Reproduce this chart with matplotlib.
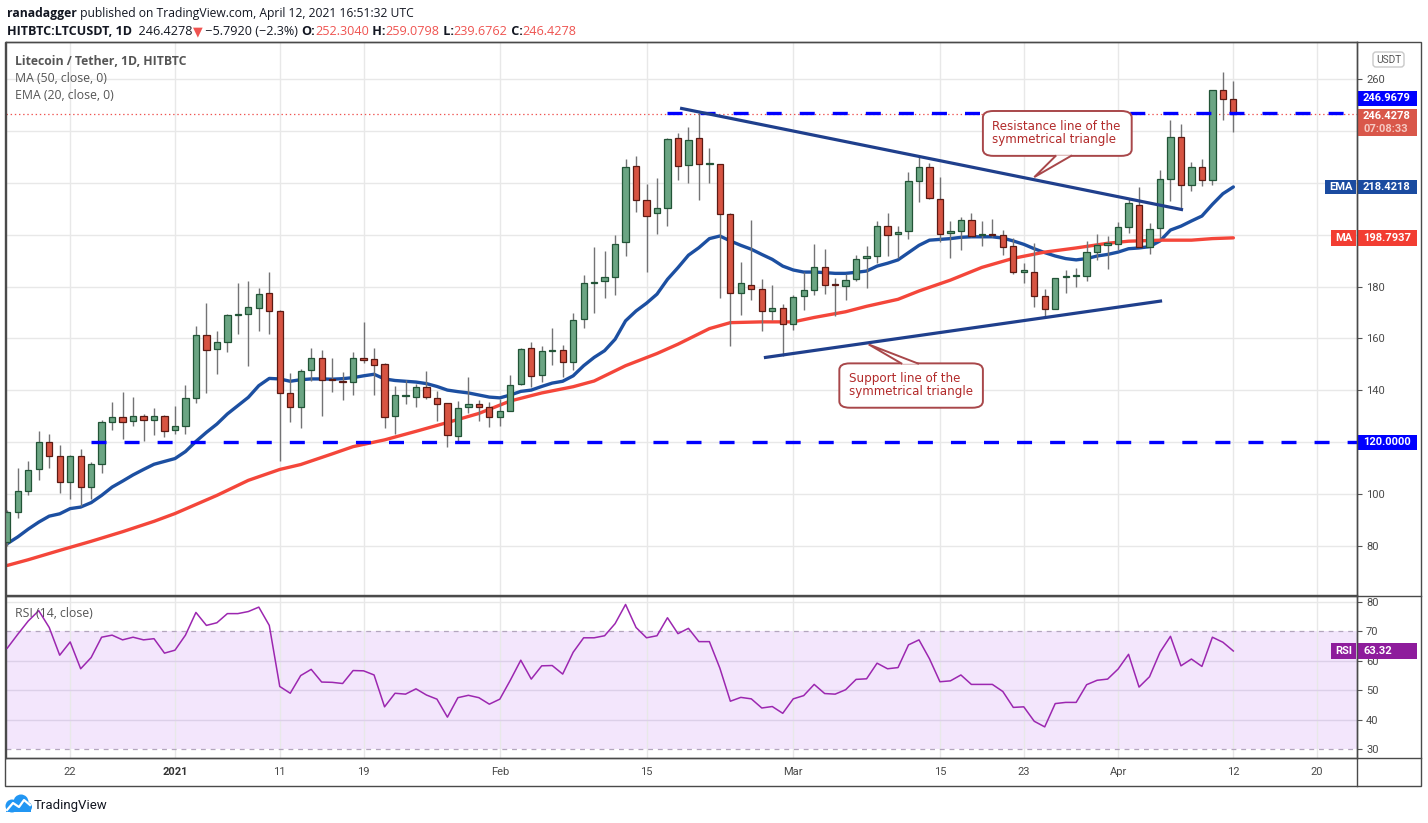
import numpy as np
import pandas as pd
import matplotlib
matplotlib.use("Agg")
import matplotlib.pyplot as plt
from matplotlib.patches import Rectangle, FancyBboxPatch, Polygon, Circle
from matplotlib.transforms import blended_transform_factory

plt.rcParams['lines.scale_dashes'] = False

# ---- data ----
dates = pd.date_range('2020-12-16', '2021-04-12', freq='D')

opens = [81.5, 93.1, 101.2, 109.6, 120.0, 114.6, 104.6, 114.6, 102.7, 111.5, 127.7, 129.6, 128.1, 130.0, 128.7, 130.0,
         124.6, 126.2, 136.9, 161.5, 155.8, 158.5, 169.0, 169.6, 171.9, 177.7, 170.4, 138.8, 133.5, 147.7, 152.3, 144.2,
         143.7, 143.1, 152.3, 151.9, 150.0, 130.0, 137.7, 137.3, 141.2, 136.9, 135.0, 122.3, 133.5, 134.6, 133.5,
         129.6, 131.9, 142.3, 156.2, 145.8, 155.0, 155.4, 150.8, 167.7, 181.3, 182.2, 183.8, 197.3, 226.5, 213.5, 208.5,
         210.4, 237.3, 226.9, 237.3, 227.1, 227.3, 208.1, 177.7, 180.8, 179.2, 170.4, 171.9,
         165.4, 176.2, 178.8, 187.7, 180.8, 180.4, 183.1, 191.2, 191.8, 203.5, 200.4, 201.5, 220.8, 226.2, 213.8, 200.8,
         201.5, 205.8, 199.9, 200.0, 200.0, 195.8, 185.8, 185.8, 176.2, 171.5, 183.6, 184.1, 184.1, 193.5, 195.9,
         196.5, 203.1, 211.5, 195.4, 202.7, 221.5, 237.7, 219.2, 226.2, 221.0, 255.8, 252.3040]
highs = [94.0, 110.1, 112.7, 124.4, 123.2, 119.0, 115.0, 117.4, 112.3, 128.6, 135.5, 139.4, 137.4, 130.9, 133.2, 130.5,
         134.0, 142.1, 164.7, 173.6, 162.8, 169.6, 181.3, 182.1, 179.4, 185.8, 170.8, 146.7, 148.2, 156.3, 155.4, 152.4,
         146.9, 154.7, 166.3, 156.3, 150.5, 141.5, 144.0, 142.3, 147.4, 139.6, 135.0, 135.8, 145.1, 136.3, 135.4,
         136.7, 145.9, 156.5, 158.8, 157.1, 164.0, 157.4, 169.7, 184.4, 195.1, 193.6, 199.7, 229.0, 230.4, 219.6, 221.9,
         237.4, 239.1, 241.7, 246.9, 233.5, 227.3, 208.5, 189.4, 205.5, 182.8, 180.5, 173.2,
         176.7, 185.8, 196.3, 194.4, 183.5, 185.0, 192.2, 195.5, 205.1, 208.2, 203.5, 224.0, 230.0, 227.7, 222.4, 205.1,
         206.9, 208.2, 205.1, 206.2, 201.9, 198.8, 189.2, 196.9, 179.0, 183.5, 186.3, 187.3, 197.6, 200.1, 199.5,
         205.0, 213.6, 218.3, 204.6, 225.1, 244.4, 242.8, 228.2, 229.0, 255.8, 262.7, 259.0798]
lows = [80.0, 90.8, 99.5, 105.3, 109.9, 100.6, 98.3, 95.6, 98.3, 108.3, 124.9, 121.3, 126.4, 120.3, 122.6, 122.2,
        123.0, 123.0, 135.3, 139.1, 146.4, 154.9, 161.8, 149.5, 162.9, 161.8, 112.6, 127.9, 125.6, 143.7, 130.3, 139.5,
        136.4, 138.3, 150.4, 138.3, 125.6, 123.2, 134.9, 133.7, 136.5, 128.3, 118.3, 120.0, 131.2, 128.1, 125.8,
        126.2, 131.9, 141.9, 141.4, 143.3, 149.9, 145.3, 147.9, 164.1, 169.9, 175.5, 176.7, 191.8, 208.7, 185.6, 200.3,
        203.3, 221.2, 220.0, 213.5, 220.0, 175.5, 157.2, 169.1, 175.0, 162.9, 167.2, 153.1,
        163.3, 171.0, 176.8, 177.2, 168.7, 174.9, 182.2, 179.5, 189.2, 191.8, 191.2, 198.3, 212.6, 213.8, 197.3, 191.2,
        194.1, 199.2, 195.6, 199.2, 192.1, 184.9, 181.2, 172.3, 168.7, 171.5, 177.7, 179.9, 182.2, 190.3, 186.9,
        194.1, 200.8, 195.4, 192.4, 198.2, 212.9, 210.3, 216.8, 218.7, 219.0, 244.4, 239.6762]
closes = [93.1, 101.2, 109.2, 120.0, 114.6, 104.6, 114.6, 102.7, 111.5, 127.7, 129.6, 127.7, 130.0, 128.7, 130.0, 124.2,
          126.2, 136.9, 161.2, 155.4, 158.5, 169.2, 169.2, 172.3, 177.3, 170.4, 138.8, 133.5, 147.3, 152.3, 143.8, 143.8,
          143.1, 152.3, 151.8, 149.6, 129.6, 138.1, 137.9, 141.2, 137.3, 134.6, 122.7, 133.1, 134.6, 133.5, 129.6,
          131.9, 142.1, 155.9, 145.4, 155.0, 155.4, 150.8, 167.3, 181.5, 181.5, 183.8, 196.5, 226.2, 213.5, 207.3, 210.4,
          236.9, 226.5, 236.5, 227.3, 227.2, 208.1, 177.7, 181.2, 179.2, 170.4, 171.9, 165.4,
          175.8, 178.8, 187.7, 180.8, 180.6, 182.7, 190.8, 191.4, 203.5, 200.0, 201.2, 220.8, 226.2, 214.2, 200.4, 201.5,
          205.8, 199.6, 200.0, 199.8, 195.4, 185.8, 185.9, 176.2, 171.5, 183.5, 184.0, 184.2, 193.5, 195.9, 196.9,
          203.1, 212.1, 195.4, 202.3, 221.5, 237.7, 219.2, 226.2, 221.0, 255.8, 252.3, 246.4278]

ema20 = [80.9, 83.5, 86.5, 89.2, 91.5, 92.4, 94.4, 95.0, 96.7, 99.5, 102.7, 105.0, 107.4, 109.5, 111.5, 112.6,
         113.7, 116.4, 120.3, 123.8, 127.0, 130.9, 134.1, 137.3, 141.8, 144.6, 144.4, 143.5, 144.1, 144.4, 144.4, 144.3,
         144.5, 144.9, 145.6, 146.2, 144.4, 143.8, 143.5, 143.2, 142.6, 141.5, 140.1, 139.5, 139.0, 138.2, 137.4,
         137.1, 138.2, 139.6, 140.1, 141.5, 142.8, 143.5, 145.6, 149.5, 152.7, 155.3, 159.7, 166.8, 170.6, 173.6, 177.1,
         182.8, 187.3, 192.1, 195.0, 198.5, 199.5, 197.6, 195.9, 194.4, 192.4, 190.5, 187.9,
         186.4, 185.6, 185.6, 185.4, 185.1, 185.1, 185.5, 186.0, 187.9, 189.0, 190.3, 193.1, 195.9, 197.9, 198.2, 198.5,
         199.0, 199.2, 199.2, 199.2, 198.7, 197.6, 196.3, 194.6, 193.1, 191.8, 190.8, 190.3, 190.8, 191.8, 192.4,
         193.3, 194.6, 194.9, 195.4, 197.6, 201.8, 203.3, 205.3, 207.2, 211.7, 215.8, 218.4218]

ma50_days = [0, 2, 5, 8, 11, 14, 16, 20, 23, 26, 28, 31, 33, 36, 39, 42, 45, 48, 51, 54, 56, 59, 62, 64, 67, 69,
             72, 75, 77, 80, 82, 85, 87, 90, 93, 96, 99, 102, 105, 107, 110, 113, 115, 117]
ma50_vals = [72.5, 74.7, 78.3, 81.8, 85.5, 89.5, 92.5, 99.5, 105.3, 109.5, 111.4, 115.5, 118.3, 120.9, 124.2, 127.6,
             131.1, 135.9, 139.0, 141.4, 143.6, 149.5, 154.2, 157.8, 163.8, 166.1, 166.4, 166.4, 168.1, 170.3, 172.4,
             175.1, 178.3, 182.5, 187.4, 190.9, 193.3, 194.9, 196.7, 197.5, 197.9, 197.9, 198.5, 198.7937]

rsi14 = [64.3, 69.0, 73.5, 77.0, 71.3, 61.9, 66.4, 57.3, 61.1, 68.0, 68.7, 67.1, 68.0, 67.1, 67.5, 62.6,
         63.6, 68.7, 76.4, 72.0, 72.9, 76.0, 76.0, 76.7, 78.2, 72.0, 51.3, 49.0, 55.0, 57.1, 52.8, 52.7,
         52.3, 56.7, 56.6, 55.2, 44.4, 49.0, 48.7, 50.5, 48.4, 47.0, 40.9, 47.5, 48.3, 47.5, 45.3,
         47.0, 53.4, 60.2, 53.8, 58.3, 58.4, 55.5, 62.9, 67.8, 67.8, 68.5, 72.6, 79.1, 71.3, 67.8, 68.5,
         74.6, 69.2, 71.0, 66.5, 66.5, 57.5, 46.3, 47.6, 47.1, 44.0, 44.5, 42.2,
         47.1, 48.2, 52.0, 48.9, 48.7, 50.2, 53.7, 53.9, 59.2, 57.3, 57.7, 65.4, 67.1, 60.7, 52.9, 53.2,
         55.2, 52.0, 52.0, 52.0, 49.6, 44.2, 44.4, 39.5, 37.6, 45.5, 45.9, 45.9, 51.9, 53.4, 53.8,
         57.2, 62.2, 51.1, 54.6, 62.9, 68.3, 58.3, 60.6, 58.1, 68.0, 66.3, 63.32]

tick_dates = ['2020-12-22', '2021-01-01', '2021-01-11', '2021-01-19', '2021-02-01', '2021-02-15',
              '2021-03-01', '2021-03-15', '2021-03-23', '2021-04-01', '2021-04-12', '2021-04-20']
tick_labels = ['22', '2021', '11', '19', 'Feb', '15', 'Mar', '15', '23', 'Apr', '12', '20']
price_ticks = [80, 100, 120, 140, 160, 180, 200, 220, 240, 260]
price_tick_labels = ['80', '100', '', '140', '160', '180', '', '', '', '260']
rsi_ticks = [30, 40, 50, 60, 70, 80]

resistance_level = 246.9679
resistance_from = '2021-02-17'
support_level = 120.0
support_from = '2020-12-24'
res_line_days = [64.2, 112.2]
res_line_vals = [248.8, 209.6]
sup_line_days = [72.2, 110.2]
sup_line_vals = [152.6, 174.5]

# ---- figure ----
W, H = 1428, 823
fig = plt.figure(figsize=(W / 100, H / 100), dpi=100)
fig.patch.set_facecolor('white')

def frac(x0, y0, x1, y1):
    return [x0 / W, 1 - y1 / H, (x1 - x0) / W, (y1 - y0) / H]

ax = fig.add_axes(frac(6, 42, 1357, 595))
ax2 = fig.add_axes(frac(6, 596, 1357, 758), sharex=ax)
ov = fig.add_axes([0, 0, 1, 1], zorder=10)
ov.set_xlim(0, W)
ov.set_ylim(H, 0)
ov.axis('off')
ov.patch.set_alpha(0)

narrow = ['Roboto', 'DejaVu Sans']
x = np.arange(len(dates))
day0 = dates[0]
tick_pos = [(pd.Timestamp(d) - day0).days for d in tick_dates]

# candles
o = np.array(opens)
c = np.array(closes)
up = c >= o
body_lo = np.minimum(o, c)
body_h = np.maximum(np.abs(c - o), 0.5)
ax.vlines(x, lows, highs, color='#737375', lw=1, zorder=3)
ax.bar(x, body_h, bottom=body_lo, width=0.6,
       color=np.where(up, '#6ba583', '#d75442'),
       edgecolor=np.where(up, '#225437', '#5b1a13'), linewidth=0.9, zorder=4)

# moving averages
ax.plot(x, ema20, color='#1c4fa1', lw=2.4, zorder=2, solid_capstyle='round')
ax.plot(ma50_days, ma50_vals, color='#f4463a', lw=2.4, zorder=2, solid_capstyle='round')

# horizontal levels
lx_r = (pd.Timestamp(resistance_from) - day0).days
lx_s = (pd.Timestamp(support_from) - day0).days
ax.plot([lx_r, 140], [resistance_level] * 2, color='#0000ff', lw=2.4, dashes=(10.8, 13.0), zorder=6)
ax.plot([lx_s, 140], [support_level] * 2, color='#0000ff', lw=2.4, dashes=(10.8, 13.0), zorder=6)
ax.axhline(closes[-1], color='#ef5350', lw=0.9, dashes=(1, 2), zorder=1)

# triangle lines
ax.plot(res_line_days, res_line_vals, color='#1f3f8c', lw=2.3, zorder=6, solid_capstyle='butt')
ax.plot(sup_line_days, sup_line_vals, color='#1f3f8c', lw=2.3, zorder=6, solid_capstyle='butt')

# callouts
def callout(ax, x0, x1, y0, y1, base, tip, lines, tx, ty):
    ec = '#a8474a'
    box = FancyBboxPatch((x0, y0), x1 - x0, y1 - y0, boxstyle='round,pad=0,rounding_size=1.0',
                         mutation_aspect=2.5, fc='white', ec=ec, lw=1.4, zorder=7)
    ax.add_patch(box)
    by = base[2]
    tri = Polygon([(base[0], by), (tip[0], tip[1]), (base[1], by)], closed=False,
                  fc='white', ec=ec, lw=1.4, zorder=8, joinstyle='miter')
    ax.add_patch(tri)
    ax.text(tx, ty[0], lines[0], color='#b22a2a', fontsize=8.6, family='DejaVu Sans', va='center', zorder=9)
    ax.text(tx, ty[1], lines[1], color='#b22a2a', fontsize=8.6, family='DejaVu Sans', va='center', zorder=9)

callout(ax, 93.1, 107.3, 230.4, 247.7, (100.1, 101.6, 230.6), (98.0, 222.2),
        ['Resistance line of the', 'symmetrical triangle'], 94.0, (241.6, 236.8))
callout(ax, 79.4, 93.1, 133.3, 150.4, (85.4, 87.0, 150.2), (82.2, 157.7),
        ['Support line of the', 'symmetrical triangle'], 80.3, (144.6, 139.6))

# axes styling
for a in (ax, ax2):
    for s in a.spines.values():
        s.set_color('#4a4a4a')
        s.set_linewidth(1)
    a.set_xticks(tick_pos)
    a.grid(True, axis='x', color='#e8e8e8', lw=1, zorder=0)
    a.tick_params(axis='y', which='both', right=True, left=False, labelright=True, labelleft=False,
                  length=3.5, width=0.8, color='#555555', pad=3, labelsize=8, labelcolor='#4a4a4a')
    a.set_axisbelow(True)

ax.set_xlim(-0.124, 128.8)
ax.set_ylim(61.1, 274.3)
ax.set_yticks(price_ticks)
ax.set_yticklabels(price_tick_labels, family=narrow)
ax.grid(True, axis='y', color='#e8e8e8', lw=1, zorder=0)
ax.tick_params(axis='x', length=0, labelbottom=False)

ax2.set_ylim(27.05, 81.97)
ax2.set_yticks(rsi_ticks)
ax2.set_yticklabels([str(t) for t in rsi_ticks], family=narrow)
ax2.axhspan(30, 70, color='#f3e6fc', zorder=0, lw=0)
for lv in (40, 50, 60):
    ax2.axhline(lv, color='#dcd0e8', lw=1, zorder=1)
ax2.axhline(80, color='#e8e8e8', lw=1, zorder=1)
for lv in (30, 70):
    ax2.axhline(lv, color='#b3a6bd', lw=0.9, dashes=(3.5, 3.5), zorder=1)
ax2.plot(x, rsi14, color='#9c27b0', lw=1.1, zorder=3)
ax2.tick_params(axis='x', length=0, pad=6.5, labelsize=8, labelcolor='#4a4a4a')
ax2.set_xticklabels(tick_labels, family=narrow)
for lab in ax2.get_xticklabels():
    if lab.get_text() == '2021':
        lab.set_fontweight('bold')
        lab.set_color('#333333')

# price tags on the right scale
def tag(a, yc, h, text, face, name=None, nx=None, tcolor='white'):
    tr = blended_transform_factory(a.transAxes, a.transData)
    x0, x1 = 1 + 1 / 1351, 1 + 60 / 1351
    a.add_patch(Rectangle((x0, yc - h / 2), x1 - x0, h, transform=tr, fc=face, ec='none',
                          clip_on=False, zorder=20))
    a.text(x0 + 5 / 1351, yc, text, transform=tr, color=tcolor, fontsize=8, fontweight='bold',
           family=narrow, va='center', ha='left', clip_on=False, zorder=21)
    if name:
        nx0 = 1 - (1357 - nx) / 1351
        a.add_patch(Rectangle((nx0, yc - h / 2), 1 - 1 / 1351 - nx0, h, transform=tr, fc=face, ec='none',
                              clip_on=False, zorder=20))
        a.text((nx0 + 1) / 2, yc, name, transform=tr, color='white', fontsize=8, fontweight='bold',
               family=narrow, va='center', ha='center', clip_on=False, zorder=21)

tag(ax, resistance_level + 5.6, 5.8, f'{resistance_level:.4f}', '#0000ff')
tr = blended_transform_factory(ax.transAxes, ax.transData)
ax.add_patch(Rectangle((1 + 1 / 1351, closes[-1] - 8.2), 59 / 1351, 10.3, transform=tr, fc='#d9574a',
                       ec='none', clip_on=False, zorder=20))
ax.text(1 + 6 / 1351, closes[-1] - 0.6, f'{closes[-1]:.4f}', transform=tr, color='white', fontsize=8,
        fontweight='bold', family=narrow, va='center', clip_on=False, zorder=21)
ax.text(1 + 6 / 1351, closes[-1] - 5.6, '07:08:33', transform=tr, color='#f6c9c2', fontsize=8,
        fontweight='bold', family=narrow, va='center', clip_on=False, zorder=21)
tag(ax, ema20[-1], 5.3, f'{ema20[-1]:.4f}', '#1a4ba0', name='EMA', nx=1325)
tag(ax, ma50_vals[-1], 6.2, f'{ma50_vals[-1]:.4f}', '#f23d32', name='MA', nx=1331)
tag(ax, support_level, 5.8, f'{support_level:.4f}', '#0000ff')
tag(ax2, rsi14[-1], 5.4, f'{rsi14[-1]:.2f}', '#8e1c9c', name='RSI', nx=1331)

# ---- frame, header, footer (pixel overlay) ----
ov.add_patch(Rectangle((5, 42), 1416, 744, fc='none', ec='#4a4a4a', lw=1))
ov.plot([1357, 1357], [42, 786], color='#4a4a4a', lw=1)
ov.plot([6, 1421], [596, 596], color='#4a4a4a', lw=1)
ov.plot([6, 1421], [758, 758], color='#4a4a4a', lw=1)
ov.add_patch(FancyBboxPatch((1373, 52), 31, 15, boxstyle='round,pad=0,rounding_size=3',
                            fc='white', ec='#c9c9c9', lw=1))
ov.text(1388.5, 60, 'USDT', ha='center', va='center', fontsize=7.3, color='#555555', family=narrow)

hdr = ['Open Sans', 'DejaVu Sans']
renderer = fig.canvas.get_renderer()

def chain(x0, y, parts, size):
    xx = x0
    for s, col, wt in parts:
        t = ov.text(xx, y, s, color=col, fontweight=wt, fontsize=size, family=hdr, va='baseline', ha='left')
        bb = t.get_window_extent(renderer=renderer)
        xx += bb.width

dark = '#131722'
red = '#ef5350'
chain(7, 17, [('ranadagger', dark, 'bold'),
              (' published on TradingView.com, April 12, 2021 16:51:32 UTC', dark, 'normal')], 8.7)
chain(7, 35, [('HITBTC:LTCUSDT, 1D', dark, 'bold'), ('  246.4278', dark, 'normal'), ('\u25bc', red, 'normal'),
              (' \u22125.7920 (\u22122.3%) ', dark, 'normal'), ('O:', dark, 'bold'), ('252.3040', red, 'normal'),
              (' H:', dark, 'bold'), ('259.0798', red, 'normal'), (' L:', dark, 'bold'), ('239.6762', red, 'normal'),
              (' C:', dark, 'bold'), ('246.4278', red, 'normal')], 9.1)

ov.text(15, 65, 'Litecoin / Tether, 1D, HITBTC', fontsize=8.8, color='#555555', fontweight='bold', family=hdr)
ov.text(15, 82, 'MA (50, close, 0)', fontsize=8.8, color='#555555', family=hdr)
ov.text(15, 99, 'EMA (20, close, 0)', fontsize=8.8, color='#555555', family=hdr)
ov.text(15, 617, 'RSI (14, close)', fontsize=8.8, color='#555555', family=hdr)

# TradingView logo
for cx, cy, r in [(12, 806, 6.5), (21, 802, 7.5), (27, 807, 5)]:
    ov.add_patch(Circle((cx, cy), r, fc='#2196f3', ec='none'))
ov.add_patch(Rectangle((6, 806), 25, 6, fc='#2196f3', ec='none'))
ov.plot([7, 13, 19, 24, 30], [810, 803, 807, 800, 805], color='white', lw=1.6)
ov.text(34, 809, 'TradingView', fontsize=9.5, color=dark, family=narrow, va='baseline')

fig.savefig('out.png', dpi=100)
